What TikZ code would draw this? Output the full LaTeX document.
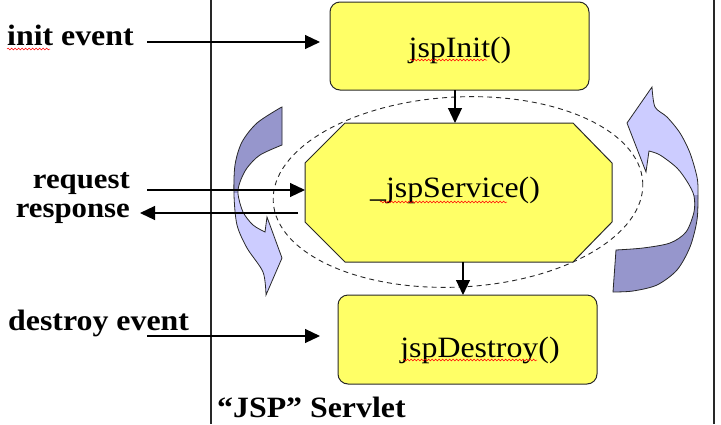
\documentclass[tikz,border=0pt]{standalone}
\usepackage{fontspec}
\setmainfont{Liberation Serif}
\newfontfamily\lbl[FakeStretch=1.08]{Liberation Serif}
\usetikzlibrary{arrows.meta,decorations.pathmorphing}
\definecolor{boxyellow}{RGB}{255,255,102}
\definecolor{bluedark}{RGB}{150,150,204}
\definecolor{bluelight}{RGB}{204,204,255}
\definecolor{edge}{RGB}{40,40,40}
\begin{document}
\begin{tikzpicture}[x=1pt,y=-1pt,
 boxst/.style={draw=edge,line width=1pt,fill=boxyellow,rounded corners=10pt,inner sep=0pt,outer sep=0pt},
 arr/.style={line width=1.1pt,-{Triangle[length=15pt,width=14pt]}},
 lab/.style={font=\lbl\bfseries\fontsize{29.5}{30}\selectfont,inner sep=0pt},
 labs/.style={font=\lbl\bfseries\fontsize{28.5}{30}\selectfont,inner sep=0pt},
 fn/.style={font=\lbl\fontsize{29.5}{30}\selectfont,inner sep=0pt},
 squig/.style={red,line width=0.5pt,decorate,decoration={snake,amplitude=0.9pt,segment length=3.5pt}},
 curvarrow/.style={draw=edge,line width=0.8pt}
]
\useasboundingbox (0,0) rectangle (721,424);

% servlet frame
\draw[line width=1.1pt,edge] (211,0) -- (211,424);
\draw[line width=1.1pt,edge] (714,0) -- (714,424);

% dashed ellipse
\draw[edge,line width=0.9pt,dash pattern=on 5pt off 4pt,rotate around={3:(458,192)}]
  (458,192) ellipse [x radius=185, y radius=95];

% left curved arrow
\begin{scope}
\clip (282,107) -- (282,145) -- plot[smooth] coordinates {(282,145)(260,155)(247,168)(240,182)(238,194)(243,212)(253,225)(265,232)}
  -- (267,217) -- (282,258) -- (266,295)
  -- plot[smooth] coordinates {(266,295)(263,272)(247,248)(237,225)(234,195)(235,165)(242,142)(257,123)(280,108)} -- cycle;
\fill[bluelight] (220,100) rectangle (300,300);
\fill[bluedark] (220,100) rectangle (300,193);
\end{scope}
\draw[curvarrow] (282,107) -- (282,145) -- plot[smooth] coordinates {(282,145)(260,155)(247,168)(240,182)(238,194)(243,212)(253,225)(265,232)}
  -- (267,217) -- (282,258) -- (266,295)
  -- plot[smooth] coordinates {(266,295)(263,272)(247,248)(237,225)(234,195)(235,165)(242,142)(257,123)(280,108)} -- cycle;

% right curved arrow
\begin{scope}
\clip (652,87) -- (627,123) -- (646,172) -- (649,151)
  -- plot[smooth] coordinates {(649,151)(660,155)(677,168)(688,183)(694,196)(694,212)(686,232)(670,243)(643,248)(616,250)}
  -- (613,292)
  -- plot[smooth] coordinates {(613,292)(633,291)(657,285)(677,270)(690,247)(697,220)(698,193)(697,177)(690,153)(680,133)(667,117)(655,107)(652,87)} -- cycle;
\fill[bluelight] (600,80) rectangle (705,300);
\fill[bluedark] (600,195) rectangle (705,300);
\end{scope}
\draw[curvarrow] (652,87) -- (627,123) -- (646,172) -- (649,151)
  -- plot[smooth] coordinates {(649,151)(660,155)(677,168)(688,183)(694,196)(694,212)(686,232)(670,243)(643,248)(616,250)}
  -- (613,292)
  -- plot[smooth] coordinates {(613,292)(633,291)(657,285)(677,270)(690,247)(697,220)(698,193)(697,177)(690,153)(680,133)(667,117)(655,107)(652,87)} -- cycle;

% boxes
\node[boxst,minimum width=259pt,minimum height=88pt] (init) at (459.5,46) {};
\node[boxst,minimum width=259pt,minimum height=89pt] (des) at (467.5,339.5) {};
\node[minimum width=307pt,minimum height=139pt,inner sep=0pt,outer sep=0pt] (svc) at (458.5,192.5) {};
\draw[draw=edge,line width=1pt,fill=boxyellow]
  ([xshift=40pt]svc.north west) -- ([xshift=-39pt]svc.north east) -- ([yshift=-40pt]svc.north east)
  -- ([yshift=40pt]svc.south east) -- ([xshift=-39pt]svc.south east) -- ([xshift=40pt]svc.south west)
  -- ([yshift=40pt]svc.south west) -- ([yshift=-40pt]svc.north west) -- cycle;

% box texts
\node[fn,anchor=base] (tinitf) at (460,57) {jspInit()};
\node[fn,anchor=base] (tsvc) at (455,197) {\_jspService()};
\node[fn,anchor=base] (tdesf) at (480,357) {jspDestroy()};

% labels
\node[lab,anchor=base west] (tinit) at (7,45) {init event};
\node[labs,anchor=base east] (treq) at (130,188) {request};
\node[labs,anchor=base east] (tresp) at (130,217) {response};
\node[lab,anchor=base west] (tdes) at (8,330) {destroy event};
\node[lab,anchor=base west] (tjsp) at (217,417) {“JSP” Servlet};

% spell-check squiggles
\draw[squig] (7,49) -- (50,49);
\draw[squig] (410,60) -- (487,60);
\draw[squig] (380,202) -- (507,202);
\draw[squig] (403,360) -- (537,360);

% connectors
\coordinate (ie) at (147,42);
\coordinate (rq) at (147,190);
\coordinate (rs) at (140,213);
\coordinate (de) at (147,336);
\draw[arr,shorten >=10pt] (ie) -- (ie -| init.west);
\draw[arr] (rq) -- (rq -| svc.west);
\draw[arr,shorten <=7pt] (rs -| svc.west) -- (rs);
\draw[arr,shorten >=18pt] (de) -- (de -| des.west);
\draw[arr] ([xshift=-4.5pt]init.south) -- ([xshift=-4.5pt]init.south |- svc.north);
\draw[arr] ([xshift=-4.5pt]des.north |- svc.south) -- ([xshift=-4.5pt]des.north);
\end{tikzpicture}
\end{document}
